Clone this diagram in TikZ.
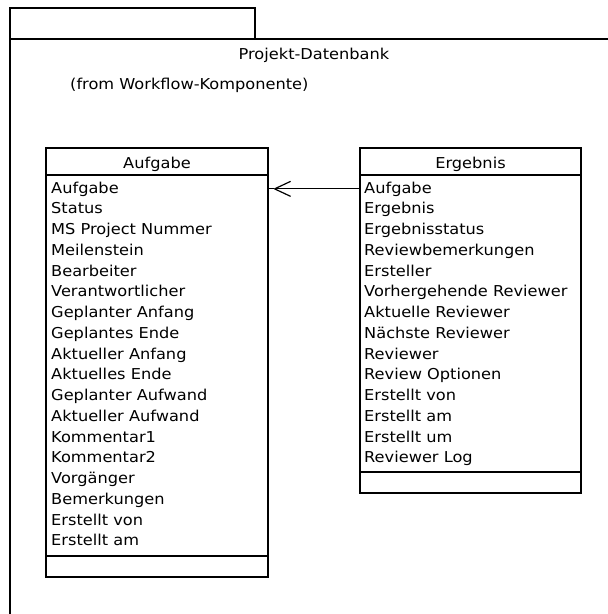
\documentclass[tikz,border=0pt]{standalone}
\usepackage{fontspec}
\setmainfont{DejaVu Sans}[FakeStretch=1.08]
\usetikzlibrary{arrows.meta,calc}

\tikzset{
  umlline/.style={line width=1.2pt, draw=black},
  compartment/.style={umlline, inner sep=0pt, outer sep=0pt, anchor=north west},
  classtitle/.style={anchor=base, inner sep=0pt},
  attr/.style={anchor=base west, inner sep=0pt},
  assoc/.style={umlline, -{Straight Barb[length=16pt,width=15pt,line join=round]}}
}

\begin{document}
\begin{tikzpicture}[x=1pt,y=-1pt,font=\fontsize{15}{20.75}\selectfont]
  \useasboundingbox (0,0) rectangle (608,614);

  % package with its tab
  \node[compartment, minimum width=245pt, minimum height=31pt] (pkgtab) at (10,8) {};
  \draw[umlline] (10,620) -- (10,39) -- (615,39);
  \node[classtitle] (pkgname) at (314,59) {Projekt-Datenbank};
  \node[attr] (pkgfrom) at (70,89) {(from Workflow-Komponente)};

  % class Aufgabe
  \node[compartment, minimum width=222pt, minimum height=27pt] (aufgabe-head) at (46,148) {};
  \node[compartment, minimum width=222pt, minimum height=381pt] (aufgabe-attr) at (46,175) {};
  \node[compartment, minimum width=222pt, minimum height=21pt] (aufgabe-ops) at (46,556) {};
  \node[classtitle] (aufgabe-title) at (157,168) {Aufgabe};
  \foreach \t [count=\i] in {Aufgabe, Status, MS Project Nummer, Meilenstein,
      Bearbeiter, Verantwortlicher, Geplanter Anfang, Geplantes Ende,
      Aktueller Anfang, Aktuelles Ende, Geplanter Aufwand, Aktueller Aufwand,
      Kommentar1, Kommentar2, Vorgänger, Bemerkungen, Erstellt von, Erstellt am}
    \node[attr] (a\i) at (51,{193+(\i-1)*20.75}) {\t};

  % class Ergebnis
  \node[compartment, minimum width=221pt, minimum height=27pt] (ergebnis-head) at (360,148) {};
  \node[compartment, minimum width=221pt, minimum height=297pt] (ergebnis-attr) at (360,175) {};
  \node[compartment, minimum width=221pt, minimum height=21pt] (ergebnis-ops) at (360,472) {};
  \node[classtitle] (ergebnis-title) at (470.5,168) {Ergebnis};
  \foreach \t [count=\i] in {Aufgabe, Ergebnis, Ergebnisstatus, Reviewbemerkungen,
      Ersteller, Vorhergehende Reviewer, Aktuelle Reviewer, Nächste Reviewer,
      Reviewer, Review Optionen, Erstellt von, Erstellt am, Erstellt um, Reviewer Log}
    \node[attr] (e\i) at (364,{193+(\i-1)*20.75}) {\t};

  % association Ergebnis -> Aufgabe
  \coordinate (assoc-end) at (aufgabe-attr.east |- e1.west);
  \coordinate (assoc-tip) at ($(assoc-end)+(6,0)$);
  \draw[umlline] (assoc-tip) -- (assoc-end);
  \draw[assoc] (ergebnis-attr.west |- e1.west) -- (assoc-tip);
\end{tikzpicture}
\end{document}
